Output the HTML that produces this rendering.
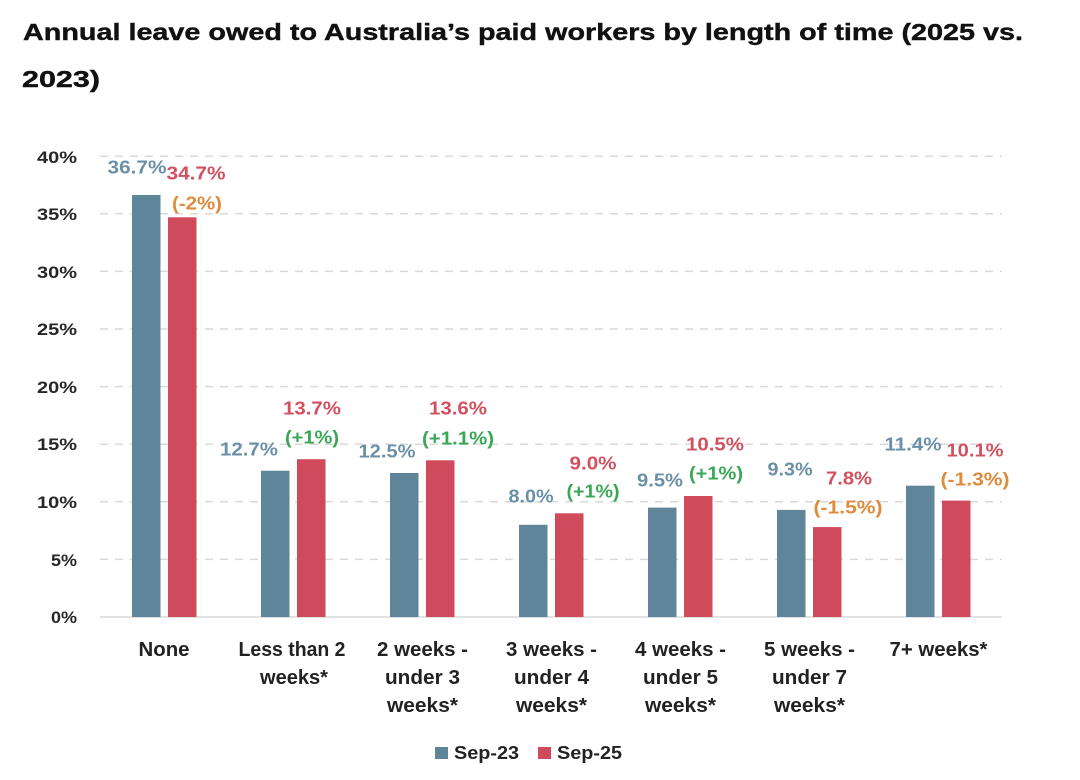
<!DOCTYPE html>
<html>
<head>
<meta charset="utf-8">
<style>
  html,body{margin:0;padding:0;background:#ffffff;}
  svg{display:block;}
  text{font-family:"Liberation Sans",Arial,sans-serif;}
</style>
</head>
<body>
<svg width="1080" height="780" viewBox="0 0 1080 780" xmlns="http://www.w3.org/2000/svg">
  <rect width="1080" height="780" fill="#ffffff"/>

  <!-- Title -->
  <text x="23" y="40" font-size="23" font-weight="bold" fill="#111" stroke="#111" stroke-width="0.4" textLength="1000" lengthAdjust="spacingAndGlyphs">Annual leave owed to Australia’s paid workers by length of time (2025 vs.</text>
  <text x="22" y="87" font-size="23" font-weight="bold" fill="#111" stroke="#111" stroke-width="0.4" textLength="78" lengthAdjust="spacingAndGlyphs">2023)</text>

  <!-- Gridlines -->
  <g stroke="#d9d9d9" stroke-width="1.5" stroke-dasharray="8,7">
    <line x1="100" y1="156.2" x2="1002" y2="156.2"/>
    <line x1="100" y1="213.8" x2="1002" y2="213.8"/>
    <line x1="100" y1="271.4" x2="1002" y2="271.4"/>
    <line x1="100" y1="329" x2="1002" y2="329"/>
    <line x1="100" y1="386.6" x2="1002" y2="386.6"/>
    <line x1="100" y1="444.2" x2="1002" y2="444.2"/>
    <line x1="100" y1="501.8" x2="1002" y2="501.8"/>
    <line x1="100" y1="559.4" x2="1002" y2="559.4"/>
  </g>
  <line x1="100" y1="617" x2="1002" y2="617" stroke="#d9d9d9" stroke-width="1.5"/>

  <!-- Y tick labels -->
  <g font-size="17" font-weight="bold" fill="#262626" text-anchor="end">
    <text x="77" y="163" textLength="40" lengthAdjust="spacingAndGlyphs">40%</text>
    <text x="77" y="220" textLength="40" lengthAdjust="spacingAndGlyphs">35%</text>
    <text x="77" y="278" textLength="40" lengthAdjust="spacingAndGlyphs">30%</text>
    <text x="77" y="335" textLength="40" lengthAdjust="spacingAndGlyphs">25%</text>
    <text x="77" y="393" textLength="40" lengthAdjust="spacingAndGlyphs">20%</text>
    <text x="77" y="450" textLength="40" lengthAdjust="spacingAndGlyphs">15%</text>
    <text x="77" y="508" textLength="40" lengthAdjust="spacingAndGlyphs">10%</text>
    <text x="77" y="566" textLength="26" lengthAdjust="spacingAndGlyphs">5%</text>
    <text x="77" y="623" textLength="26" lengthAdjust="spacingAndGlyphs">0%</text>
  </g>

  <!-- Bars: y(v) = 617 - 11.52*v -->
  <g fill="#5e8599">
    <rect x="132" y="195" width="28.5" height="422"/>
    <rect x="261" y="470.7" width="28.5" height="146.3"/>
    <rect x="390" y="473" width="28.5" height="144"/>
    <rect x="519" y="524.8" width="28.5" height="92.2"/>
    <rect x="648" y="507.6" width="28.5" height="109.4"/>
    <rect x="777" y="509.9" width="28.5" height="107.1"/>
    <rect x="906" y="485.7" width="28.5" height="131.3"/>
  </g>
  <g fill="#cf4a5a">
    <rect x="168" y="217.3" width="28.5" height="399.7"/>
    <rect x="297" y="459.2" width="28.5" height="157.8"/>
    <rect x="426" y="460.3" width="28.5" height="156.7"/>
    <rect x="555" y="513.3" width="28.5" height="103.7"/>
    <rect x="684" y="496" width="28.5" height="121"/>
    <rect x="813" y="527.1" width="28.5" height="89.9"/>
    <rect x="942" y="500.6" width="28.5" height="116.4"/>
  </g>

  <!-- Value labels -->
  <g font-size="18.5" font-weight="bold" text-anchor="middle">
    <!-- None -->
    <text x="137" y="173.5" fill="#6a90a7" textLength="59" lengthAdjust="spacingAndGlyphs">36.7%</text>
    <text x="196" y="179.5" fill="#d2505f" textLength="59" lengthAdjust="spacingAndGlyphs">34.7%</text>
    <text x="197" y="209.5" fill="#e08a3c" textLength="50" lengthAdjust="spacingAndGlyphs">(-2%)</text>
    <!-- Less than 2 -->
    <text x="249" y="455.5" fill="#6a90a7" textLength="58" lengthAdjust="spacingAndGlyphs">12.7%</text>
    <text x="312" y="414.5" fill="#d2505f" textLength="58" lengthAdjust="spacingAndGlyphs">13.7%</text>
    <text x="312" y="443.5" fill="#3aa757" textLength="54" lengthAdjust="spacingAndGlyphs">(+1%)</text>
    <!-- 2 weeks -->
    <text x="387" y="457.5" fill="#6a90a7" textLength="57" lengthAdjust="spacingAndGlyphs">12.5%</text>
    <text x="458" y="414.5" fill="#d2505f" textLength="58" lengthAdjust="spacingAndGlyphs">13.6%</text>
    <text x="458" y="444.5" fill="#3aa757" textLength="72" lengthAdjust="spacingAndGlyphs">(+1.1%)</text>
    <!-- 3 weeks -->
    <text x="531" y="502.5" fill="#6a90a7" textLength="45" lengthAdjust="spacingAndGlyphs">8.0%</text>
    <text x="593" y="469.5" fill="#d2505f" textLength="47" lengthAdjust="spacingAndGlyphs">9.0%</text>
    <text x="593" y="497.5" fill="#3aa757" textLength="53" lengthAdjust="spacingAndGlyphs">(+1%)</text>
    <!-- 4 weeks -->
    <text x="660" y="486.5" fill="#6a90a7" textLength="46" lengthAdjust="spacingAndGlyphs">9.5%</text>
    <text x="715" y="450.5" fill="#d2505f" textLength="58" lengthAdjust="spacingAndGlyphs">10.5%</text>
    <text x="716" y="479.5" fill="#3aa757" textLength="54" lengthAdjust="spacingAndGlyphs">(+1%)</text>
    <!-- 5 weeks -->
    <text x="790" y="475.5" fill="#6a90a7" textLength="45" lengthAdjust="spacingAndGlyphs">9.3%</text>
    <text x="849" y="484.5" fill="#d2505f" textLength="46" lengthAdjust="spacingAndGlyphs">7.8%</text>
    <text x="848" y="513.5" fill="#e08a3c" textLength="69" lengthAdjust="spacingAndGlyphs">(-1.5%)</text>
    <!-- 7+ weeks -->
    <text x="913" y="450.5" fill="#6a90a7" textLength="57" lengthAdjust="spacingAndGlyphs">11.4%</text>
    <text x="975" y="456.5" fill="#d2505f" textLength="57" lengthAdjust="spacingAndGlyphs">10.1%</text>
    <text x="975" y="485.5" fill="#e08a3c" textLength="69" lengthAdjust="spacingAndGlyphs">(-1.3%)</text>
  </g>

  <!-- Category labels -->
  <g font-size="20" font-weight="bold" fill="#222" text-anchor="middle">
    <text x="164" y="656" textLength="51" lengthAdjust="spacingAndGlyphs">None</text>

    <text x="292" y="656" textLength="107" lengthAdjust="spacingAndGlyphs">Less than 2</text>
    <text x="294" y="684" textLength="68" lengthAdjust="spacingAndGlyphs">weeks*</text>

    <text x="422.5" y="656" textLength="91" lengthAdjust="spacingAndGlyphs">2 weeks -</text>
    <text x="422.5" y="684" textLength="75" lengthAdjust="spacingAndGlyphs">under 3</text>
    <text x="422.5" y="712" textLength="71" lengthAdjust="spacingAndGlyphs">weeks*</text>

    <text x="551.5" y="656" textLength="91" lengthAdjust="spacingAndGlyphs">3 weeks -</text>
    <text x="551.5" y="684" textLength="75" lengthAdjust="spacingAndGlyphs">under 4</text>
    <text x="551.5" y="712" textLength="71" lengthAdjust="spacingAndGlyphs">weeks*</text>

    <text x="680.5" y="656" textLength="91" lengthAdjust="spacingAndGlyphs">4 weeks -</text>
    <text x="680.5" y="684" textLength="75" lengthAdjust="spacingAndGlyphs">under 5</text>
    <text x="680.5" y="712" textLength="71" lengthAdjust="spacingAndGlyphs">weeks*</text>

    <text x="809.5" y="656" textLength="91" lengthAdjust="spacingAndGlyphs">5 weeks -</text>
    <text x="809.5" y="684" textLength="75" lengthAdjust="spacingAndGlyphs">under 7</text>
    <text x="809.5" y="712" textLength="71" lengthAdjust="spacingAndGlyphs">weeks*</text>

    <text x="938.5" y="656" textLength="98" lengthAdjust="spacingAndGlyphs">7+ weeks*</text>
  </g>

  <!-- Legend -->
  <rect x="435" y="747" width="13" height="12" fill="#5e8599"/>
  <text x="454" y="759" font-size="18" font-weight="bold" fill="#222" textLength="65" lengthAdjust="spacingAndGlyphs">Sep-23</text>
  <rect x="538" y="747" width="13" height="12" fill="#cf4a5a"/>
  <text x="557" y="759" font-size="18" font-weight="bold" fill="#222" textLength="65" lengthAdjust="spacingAndGlyphs">Sep-25</text>
</svg>
</body>
</html>
